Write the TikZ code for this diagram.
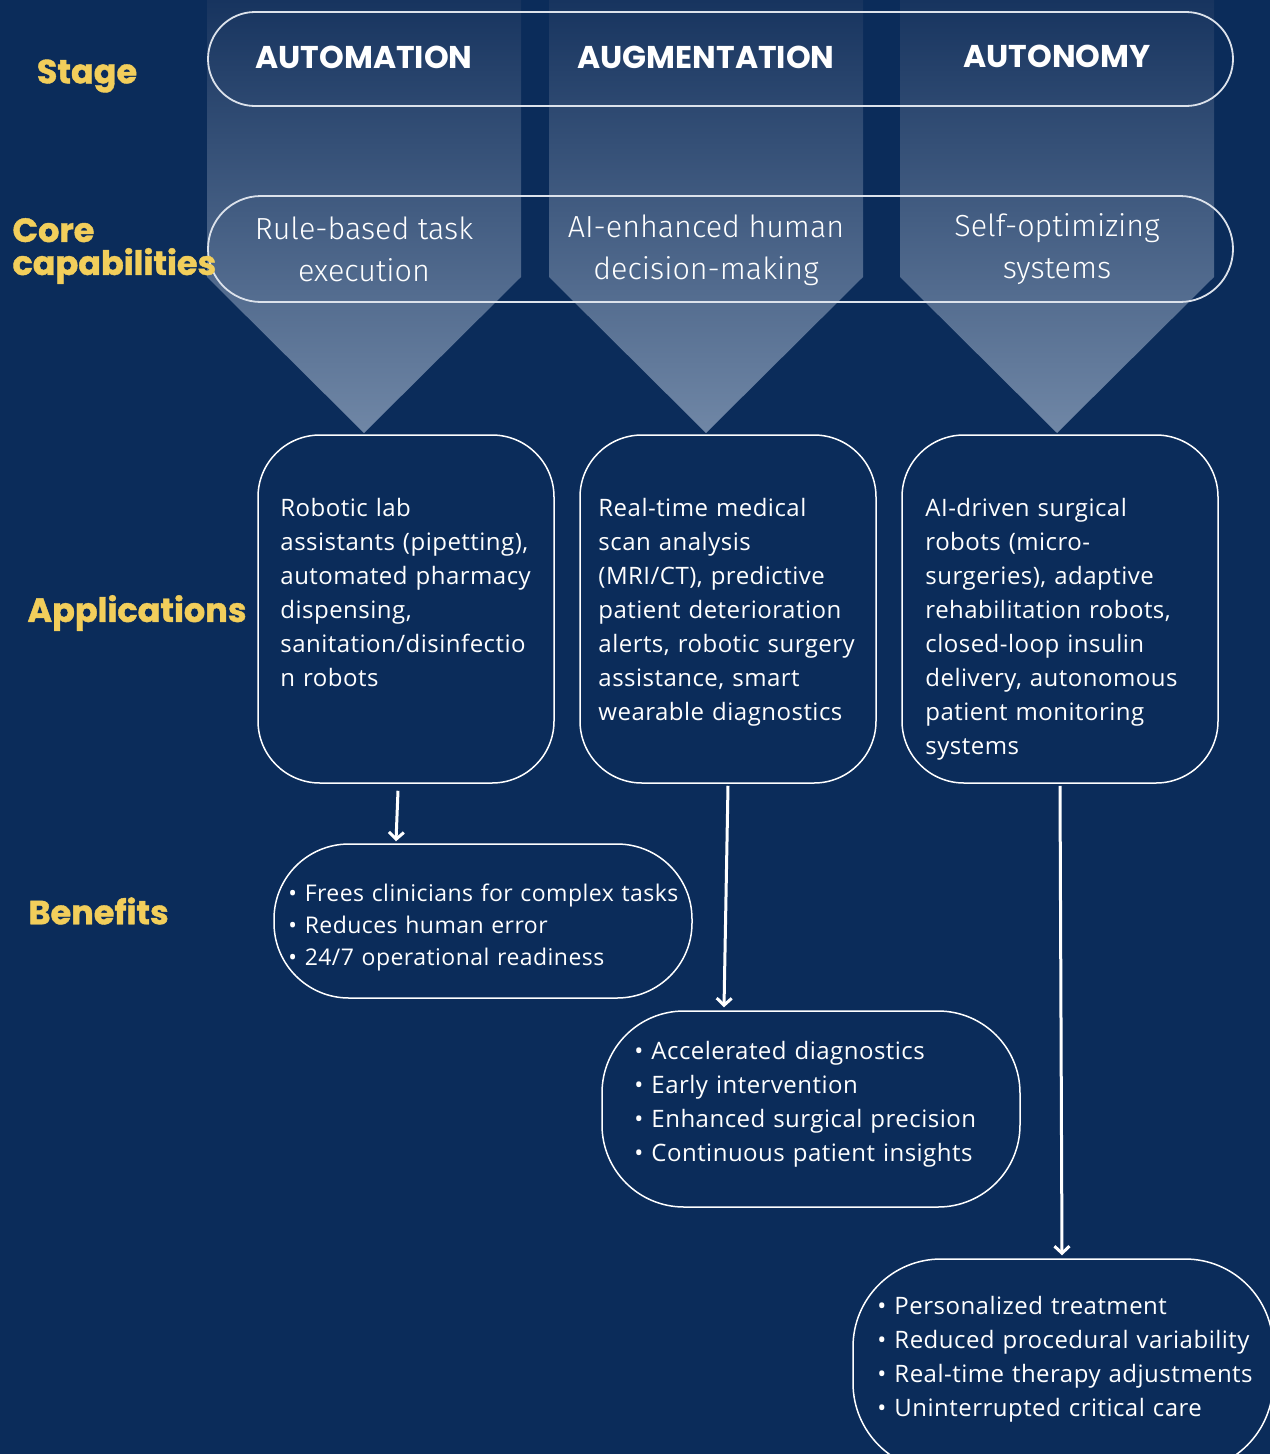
\documentclass[tikz,border=0pt]{standalone}
\usepackage{fontspec}
\setmainfont{Open Sans}[LetterSpace=2]
\newfontfamily\popfont{Poppins}
\newfontfamily\popheavy{Poppins}[BoldFeatures={FakeBold=1.2}]
\newfontfamily\lightfont{Fira Sans Light}
\usetikzlibrary{arrows.meta}

\definecolor{navy}{HTML}{0B2C5A}
\definecolor{coltop}{HTML}{17345F}
\definecolor{colbot}{HTML}{7087A6}
\definecolor{labelyellow}{HTML}{F2CE5B}
\definecolor{rimgray}{HTML}{DCE2EB}

\tikzset{
  chevron/.style={top color=coltop, bottom color=colbot, draw=none},
  pill/.style={draw=rimgray, line width=1.8pt, fill=none, inner sep=0pt},
  stagehd/.style={text=white, font=\popfont\bfseries\fontsize{31.5}{36}\selectfont},
  captext/.style={text=white, align=center, font=\lightfont\fontsize{30.5}{42}\selectfont},
  rowlabel/.style={text=labelyellow, font=\popheavy\bfseries\fontsize{33.5}{33}\selectfont},
  appbox/.style={draw=white, line width=1.5pt, rounded corners=62pt, inner sep=0pt},
  apptext/.style={text=white, align=left, anchor=north west, inner sep=0pt,
    text width=300pt, font=\fontsize{24}{34}\selectfont},
  benbox/.style={draw=white, line width=1.5pt, inner sep=0pt},
  bentext/.style={text=white, align=left, anchor=north west, inner sep=0pt,
    text width=420pt, font=\fontsize{24}{34}\selectfont},
  arw/.style={draw=white, line width=3pt, -{Straight Barb[length=7pt,width=15pt,line width=3pt]}}
}

\begin{document}
\begin{tikzpicture}[x=1pt,y=-1pt]
\useasboundingbox (0,0) rectangle (1270,1454);
\clip (0,0) rectangle (1270,1454);
\fill[navy] (0,0) rectangle (1270,1454);

% stage columns narrowing to a point
\shade[chevron] (207,0) -- (521,0) -- (521,277) -- (364,433) -- (207,277) -- cycle;
\shade[chevron] (549,0) -- (863,0) -- (863,277) -- (706,433) -- (549,277) -- cycle;
\shade[chevron] (900,0) -- (1214,0) -- (1214,277) -- (1057,433) -- (900,277) -- cycle;

% stage and capability bands
\node[pill, rounded corners=47pt, minimum width=1025pt, minimum height=94pt] (stageband) at (720.5,59) {};
\node[pill, rounded corners=53pt, minimum width=1025pt, minimum height=106pt] (capband) at (720.5,249) {};

\node[stagehd] (st1) at (364,57) {AUTOMATION};
\node[stagehd] (st2) at (706,57) {AUGMENTATION};
\node[stagehd] (st3) at (1057,56) {AUTONOMY};

\node[captext] (cap1) at (364,249) {Rule-based task\\execution};
\node[captext] (cap2) at (706,250) {AI-enhanced human\\decision-making};
\node[captext] (cap3) at (1057,249) {Self-optimizing\\systems};

% row labels
\node[rowlabel] (lstage) at (87,76) {Stage};
\node[rowlabel, anchor=west, align=left] (lcore) at (9,251) {Core\\capabilities};
\node[rowlabel] (lapp) at (137,613) {Applications};
\node[rowlabel, anchor=west] (lben) at (25,911) {Benefits};

% application boxes
\node[appbox, minimum width=296pt, minimum height=348pt] (app1) at (406,609) {};
\node[appbox, minimum width=296pt, minimum height=348pt] (app2) at (728,609) {};
\node[appbox, minimum width=316pt, minimum height=348pt] (app3) at (1060,609) {};

\node[apptext] (app1t) at ([shift={(23,63.5)}]app1.north west)
  {Robotic lab\\assistants (pipetting),\\automated pharmacy\\dispensing,\\sanitation/disinfectio\\n robots};
\node[apptext] (app2t) at ([shift={(19,63.5)}]app2.north west)
  {Real-time medical\\scan analysis\\(MRI/CT), predictive\\patient deterioration\\alerts, robotic surgery\\assistance, smart\\wearable diagnostics};
\node[apptext] (app3t) at ([shift={(24,63.5)}]app3.north west)
  {AI-driven surgical\\robots (micro-\\surgeries), adaptive\\rehabilitation robots,\\closed-loop insulin\\delivery, autonomous\\patient monitoring\\systems};

% benefit boxes
\node[benbox, rounded corners=75pt, minimum width=418pt, minimum height=154pt] (ben1) at (483,921) {};
\node[benbox, rounded corners=82pt, minimum width=418pt, minimum height=196pt] (ben2) at (811,1109) {};
\node[benbox, rounded corners=88pt, minimum width=420pt, minimum height=212pt] (ben3) at (1063,1365) {};

\node[bentext, font=\fontsize{23}{32}\selectfont] (ben1t) at ([shift={(15,40)}]ben1.north west)
  {• Frees clinicians for complex tasks\\• Reduces human error\\• 24/7 operational readiness};
\node[bentext] (ben2t) at ([shift={(33,31)}]ben2.north west)
  {• Accelerated diagnostics\\• Early intervention\\• Enhanced surgical precision\\• Continuous patient insights};
\node[bentext] (ben3t) at ([shift={(25,38)}]ben3.north west)
  {• Personalized treatment\\• Reduced procedural variability\\• Real-time therapy adjustments\\• Uninterrupted critical care};

% connectors from applications to benefits
\draw[arw] ([shift={(-8,7)}]app1.south) -- ([shift={(-87,-2)}]ben1.north);
\draw[arw] ([shift={(0,2)}]app2.south) -- ([shift={(-87,-3)}]ben2.north);
\draw[arw] ([shift={(0,2)}]app3.south) -- ([shift={(-1,-3)}]ben3.north);
\end{tikzpicture}
\end{document}
